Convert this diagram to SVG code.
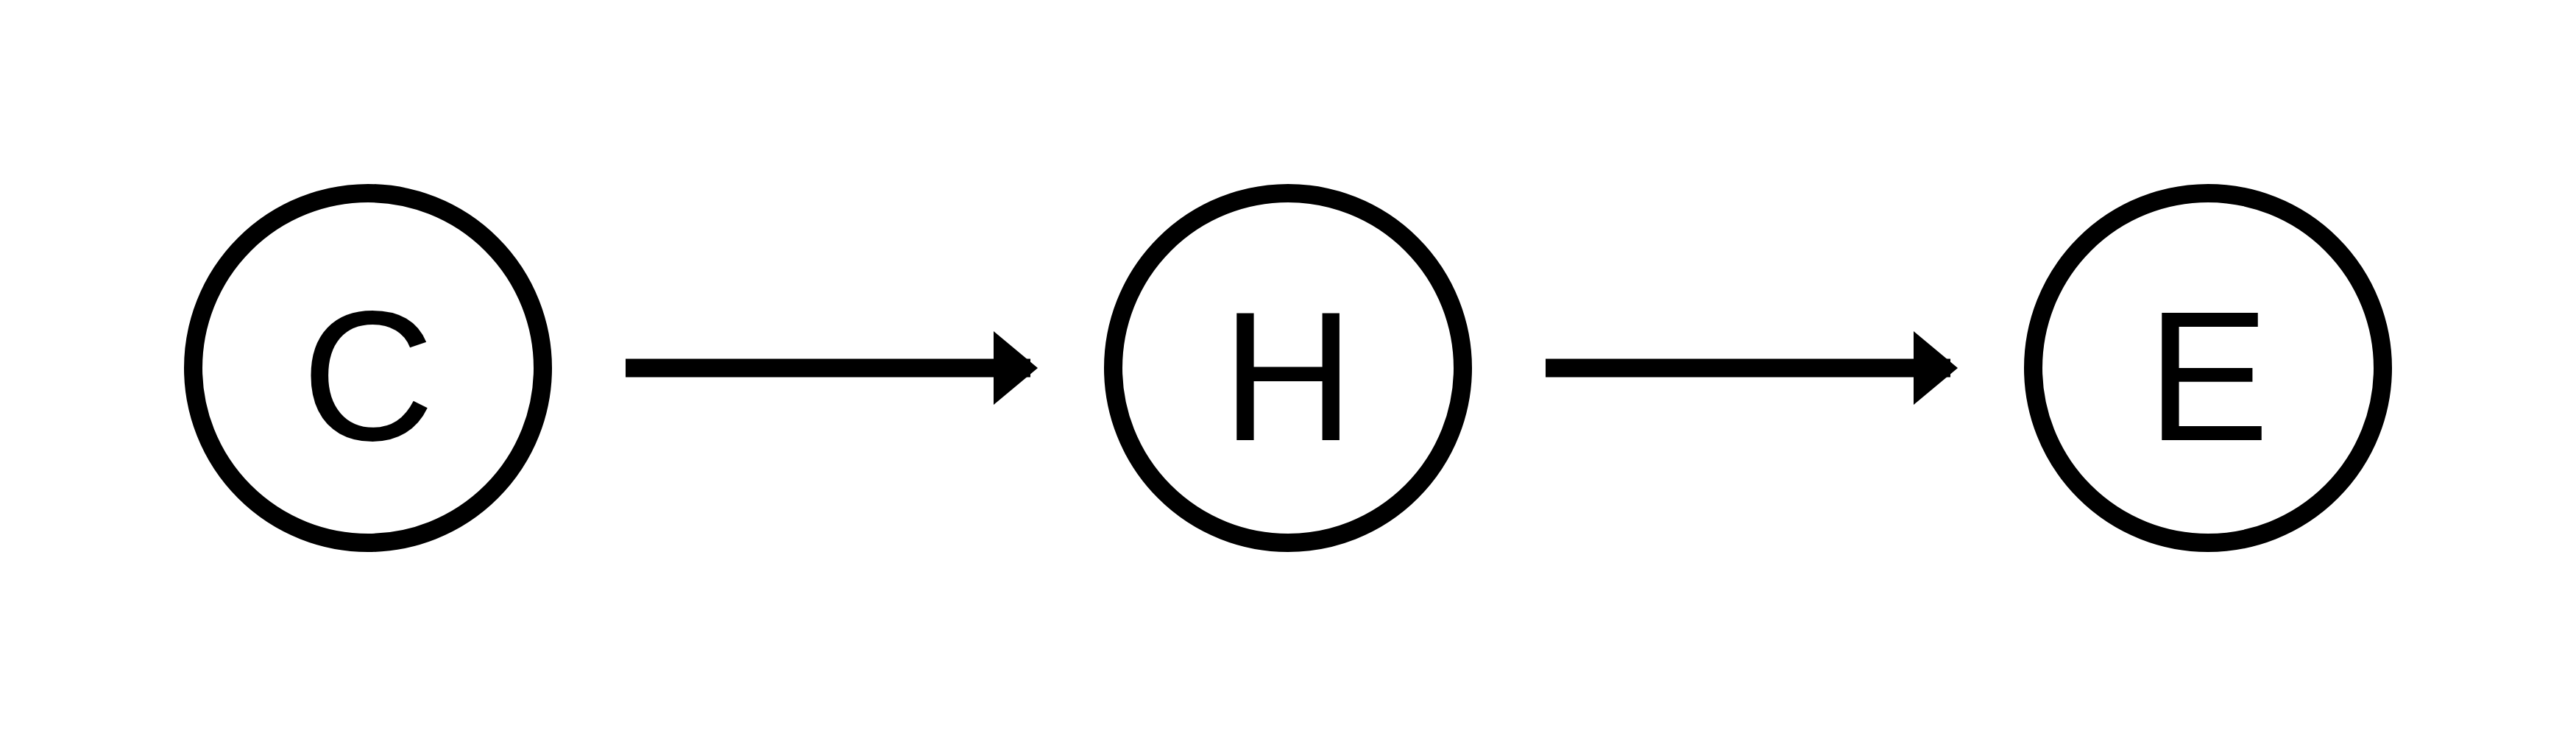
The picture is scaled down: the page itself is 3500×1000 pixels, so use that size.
<svg xmlns="http://www.w3.org/2000/svg" width="3500" height="1000" viewBox="0 0 3500 1000">
<style>
.node circle{fill:#fff;stroke:#000;stroke-width:25}
.node text{font-size:250px;fill:#000;text-anchor:middle}
.edge line{stroke:#000;stroke-width:25;stroke-linecap:butt}
.edge polygon{fill:#000}
</style>
<rect width="3500" height="1000" fill="#fff"/>
<g id="C" class="node"><circle cx="500" cy="500" r="237.5"/><text x="500" y="598" font-family="Liberation Sans, Arial, sans-serif">C</text></g>
<g id="H" class="node"><circle cx="1750" cy="500" r="237.5"/><text x="1750" y="598" font-family="Liberation Sans, Arial, sans-serif">H</text></g>
<g id="E" class="node"><circle cx="3000" cy="500" r="237.5"/><text x="3000" y="598" font-family="Liberation Sans, Arial, sans-serif">E</text></g>
<g id="connectors">
<g class="edge" id="C-H"><line x1="850" y1="500" x2="1400" y2="500"/><polygon points="1350,450 1410,500 1350,550"/></g>
<g class="edge" id="H-E"><line x1="2100" y1="500" x2="2650" y2="500"/><polygon points="2600,450 2660,500 2600,550"/></g>
</g>
</svg>
